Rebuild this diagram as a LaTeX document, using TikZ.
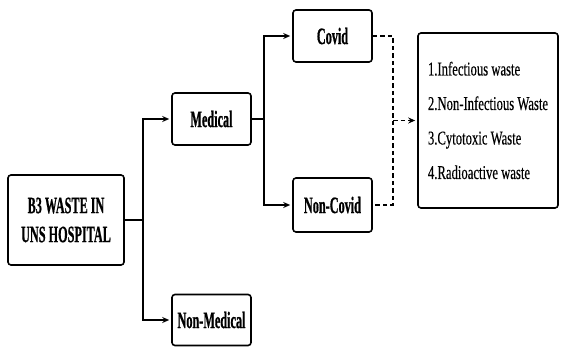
\documentclass[tikz,border=0pt]{standalone}
\usepackage{fontspec}
\setmainfont{Liberation Serif}
\newfontfamily\boldcond[FakeStretch=0.52,FakeBold=0.6]{Liberation Serif Bold}
\newfontfamily\regcond[FakeStretch=0.65,FakeBold=0.3]{Liberation Serif}
\usetikzlibrary{arrows.meta}
\begin{document}
\begin{tikzpicture}[x=1pt,y=-1pt,
  box/.style={draw, line width=1.6pt, rounded corners=3pt, fill=white, align=center, inner sep=0pt},
  lbl/.style={font=\boldcond\fontsize{23.5}{29}\selectfont},
  conn/.style={line width=1.4pt},
  tip/.style={-{Stealth[length=7pt,width=6pt]}, shorten >=2pt},
  arr/.style={conn, tip},
  dconn/.style={line width=1.4pt, dash pattern=on 4.5pt off 3pt}]
\useasboundingbox (0,0) rectangle (561,347);
\node[box, lbl, minimum width=116pt, minimum height=90pt] (b3) at (66,220) {B3 WASTE IN\\UNS HOSPITAL};
\node[box, lbl, minimum width=79pt, minimum height=52pt] (med) at (211.5,119) {Medical};
\node[box, lbl, minimum width=79pt, minimum height=51pt] (nonmed) at (211.5,320) {Non-Medical};
\node[box, lbl, minimum width=79pt, minimum height=52pt] (covid) at (332.5,36) {Covid};
\node[box, lbl, minimum width=79pt, minimum height=54pt] (noncovid) at (332.5,205) {Non-Covid};
\node[box, minimum width=140pt, minimum height=175pt, align=left, font=\regcond\fontsize{19.5}{34.5}\selectfont] (list) at (488,120.5)
  {1.Infectious waste\\2.Non-Infectious Waste\\3.Cytotoxic Waste\\4.Radioactive waste};
\coordinate (j1) at (143,220);
\coordinate (j2) at (264,119);
\coordinate (j3) at (393,120.5);
\draw[conn] (b3.east) -- (j1);
\draw[arr] (j1) |- (med.west);
\draw[arr] (j1) |- (nonmed.west);
\draw[conn] (med.east) -- (j2);
\draw[arr] (j2) |- (covid.west);
\draw[arr] (j2) |- (noncovid.west);
\draw[dconn] (covid.east) -| (j3) |- (noncovid.east);
\draw[dconn, tip] (j3) -- (list.west);
\end{tikzpicture}
\end{document}
